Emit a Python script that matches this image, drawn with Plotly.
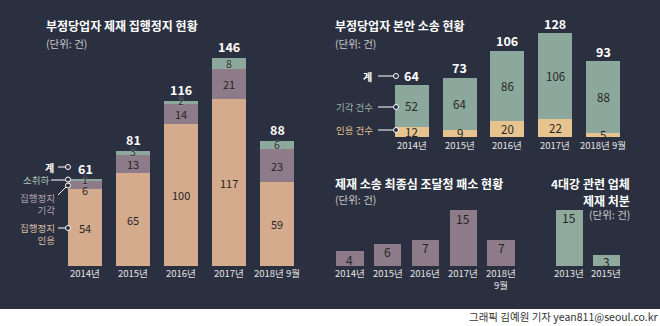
import plotly.graph_objects as go

W, H = 660, 326

# ---- data -------------------------------------------------------------
years_stay = ["2014년", "2015년", "2016년", "2017년", "2018년 9월"]
stay_granted = [54, 65, 100, 117, 59]     # 집행정지 인용
stay_rejected = [6, 13, 14, 21, 23]       # 집행정지 기각
stay_withdrawn = [1, 3, 2, 8, 6]          # 소취하
stay_total = [61, 81, 116, 146, 88]       # 계

years_suit = ["2014년", "2015년", "2016년", "2017년", "2018년 9월"]
suit_won = [12, 9, 20, 22, 5]             # 인용 건수
suit_lost = [52, 64, 86, 106, 88]         # 기각 건수
suit_total = [64, 73, 106, 128, 93]       # 계

years_final = ["2014년", "2015년", "2016년", "2017년", "2018년<br>9월"]
final_losses = [4, 6, 7, 15, 7]

years_river = ["2013년", "2015년"]
river_sanctions = [15, 3]

# ---- style ------------------------------------------------------------
BG = "#2b3040"
PEACH = "#d4ac8d"
MAUVE = "#8d7b8a"
SAGE = "#8ca79b"
SAND = "#e6c38f"
KR = "Noto Sans CJK KR"
NUM = "Liberation Sans Narrow, Noto Sans CJK KR"


def fx(x):
    return x / W


def fy(y):
    return 1 - y / H


fig = go.Figure()

# stacked bars: stays of sanction execution
for vals, col, name in [(stay_granted, PEACH, "집행정지 인용"),
                        (stay_rejected, MAUVE, "집행정지 기각"),
                        (stay_withdrawn, SAGE, "소취하")]:
    fig.add_trace(go.Bar(x=years_stay, y=vals, marker_color=col, width=0.71,
                         marker_line_width=0,
                         name=name, xaxis="x", yaxis="y", hoverinfo="skip"))

# stacked bars: main lawsuits
for vals, col, name in [(suit_won, SAND, "인용 건수"), (suit_lost, SAGE, "기각 건수")]:
    fig.add_trace(go.Bar(x=years_suit, y=vals, marker_color=col, width=0.71,
                         marker_line_width=0,
                         name=name, xaxis="x2", yaxis="y2", hoverinfo="skip"))

fig.add_trace(go.Bar(x=years_final, y=final_losses, marker_color=MAUVE, width=0.72,
                     marker_line_width=0, xaxis="x3", yaxis="y3", hoverinfo="skip"))
fig.add_trace(go.Bar(x=years_river, y=river_sanctions, marker_color="#8fa99d", width=0.73,
                     marker_line_width=0, xaxis="x4", yaxis="y4", hoverinfo="skip"))

ann = []


def seg_labels(cats, series, xa, ya, size=11):
    base = [0] * len(cats)
    for vals, shadow, nudge, fsize in series:
        for i, (c, v) in enumerate(zip(cats, vals)):
            f = dict(family=NUM, size=fsize or size, color="#262626")
            if shadow:
                f["shadow"] = shadow
            ann.append(dict(x=c, y=base[i] + v / 2, xref=xa, yref=ya, text=str(v),
                            showarrow=False, font=f, yanchor="middle", borderpad=0,
                            yshift=nudge.get(c, 0)))
            base[i] += v


seg_labels(years_stay, [(stay_granted, None, {}, None),
                        (stay_rejected, None, {"2014년": -5}, None),
                        (stay_withdrawn, "0 0 2px #b9d2c4", {"2015년": 1.5, "2016년": 1.5}, 10.5)],
           "x", "y")
seg_labels(years_suit, [(suit_won, None, {}, None), (suit_lost, None, {}, None)],
           "x2", "y2", size=11.5)

# totals above stacks
for cats, tots, xa, ya, shift in [(years_stay, stay_total, "x", "y", 11),
                                  (years_suit, suit_total, "x2", "y2", 10)]:
    for c, t in zip(cats, tots):
        ann.append(dict(x=c, y=t, xref=xa, yref=ya, text=f"<b>{t}</b>", showarrow=False,
                        yanchor="middle", yshift=shift, borderpad=0,
                        font=dict(family=KR, size=12.5, color="white")))

# values inside single bars
for cats, vals, xa, ya, shift in [(years_final, final_losses, "x3", "y3", -8),
                                  (years_river, river_sanctions, "x4", "y4", -7)]:
    for c, v in zip(cats, vals):
        ann.append(dict(x=c, y=v, xref=xa, yref=ya, text=str(v), showarrow=False,
                        yanchor="middle", yshift=shift, borderpad=0,
                        font=dict(family=NUM, size=12, color="#262626")))

# category labels under each axis
for cats, xa, ya, shift in [(years_stay, "x", "y", 1), (years_suit, "x2", "y2", -0.3),
                            (years_final, "x3", "y3", 1), (years_river, "x4", "y4", 1)]:
    for c in cats:
        ann.append(dict(x=c, y=0, xref=xa, yref=ya, text=c, showarrow=False,
                        yanchor="top", yshift=shift, borderpad=0,
                        font=dict(family=NUM, size=9.5, color="#e4e4e4")))


def txt(x, y, s, size=10, color="#c9c9c9", anchor="left", bold=False, ya="middle"):
    ann.append(dict(x=fx(x), y=fy(y), xref="paper", yref="paper", text=s, showarrow=False,
                    xanchor=anchor, yanchor=ya, align=anchor, borderpad=0,
                    font=dict(family=KR, size=size, color=color,
                              weight="bold" if bold else "normal")))


# titles
txt(45, 26, "부정당업자 제재 집행정지 현황", 12, "white", bold=True)
txt(45, 43, "(단위: 건)", 10.5)
txt(334, 25, "부정당업자 본안 소송 현황", 12, "white", bold=True)
txt(334, 43, "(단위: 건)", 10.5)
txt(334, 183, "제재 소송 최종심 조달청 패소 현황", 12, "white", bold=True)
txt(334, 199, "(단위: 건)", 10.5)
txt(631, 183, "4대강 관련 업체", 12, "white", anchor="right", bold=True)
txt(631, 200, "제재 처분", 12, "white", anchor="right", bold=True)
txt(631, 214, "(단위: 건)", 10.5, anchor="right")

# leader labels, left chart
txt(55, 167, "계", 10, "white", anchor="right", bold=True)
txt(50, 180, "소취하", 9.5, "#a9c4b6", anchor="right")
txt(56, 204, "집행정지<br>기각", 9.5, "#b3a3b2", anchor="right")
txt(56, 234, "집행정지<br>인용", 9.5, "#dcbfa4", anchor="right")

# leader labels, right chart
txt(373, 76, "계", 10, "white", anchor="right", bold=True)
txt(374, 107, "기각 건수", 9.5, "#9bb3a7", anchor="right")
txt(374, 130, "인용 건수", 9.5, SAND, anchor="right")

# credit line
txt(659, 316, "그래픽 김예원 기자 yean811@seoul.co.kr", 10.5, "#333333", anchor="right")

shapes = [dict(type="rect", xref="paper", yref="paper", x0=0, x1=1, y0=fy(309), y1=1,
               fillcolor=BG, line_width=0, layer="below")]


def seg(x0, y0, x1, y1):
    shapes.append(dict(type="line", xref="paper", yref="paper", x0=fx(x0), y0=fy(y0),
                       x1=fx(x1), y1=fy(y1), line=dict(color="white", width=1)))


def dot(x, y, r=2.5):
    shapes.append(dict(type="circle", xref="paper", yref="paper", x0=fx(x - r), x1=fx(x + r),
                       y0=fy(y + r), y1=fy(y - r), fillcolor=BG,
                       line=dict(color="white", width=1)))


seg(58, 167, 65.5, 167); dot(68, 167)
seg(51, 180, 65.5, 180); dot(68, 179.5)
seg(58, 195, 66, 187); dot(68, 185.5)
seg(58, 228, 65.5, 228); dot(68, 228)
seg(378, 76, 393.5, 76); dot(396, 76)
seg(378, 107, 393.5, 107); dot(396, 107)
seg(378, 130, 393.5, 130); dot(396, 130)


def xax(a, b):
    return dict(domain=[fx(a), fx(b)], type="category", showgrid=False, zeroline=False,
                showline=False, showticklabels=False, ticks="", fixedrange=True)


def yax(bottom, top, scale):
    return dict(domain=[fy(bottom), fy(top)], range=[0, (bottom - top) / scale],
                showgrid=False, zeroline=False, showline=False, showticklabels=False,
                ticks="", fixedrange=True)


fig.update_layout(
    width=W, height=H, margin=dict(l=0, r=0, t=0, b=0),
    paper_bgcolor="white", plot_bgcolor="rgba(0,0,0,0)",
    barmode="stack", bargap=0, showlegend=False,
    xaxis=dict(xax(61, 301), anchor="y"),
    yaxis=dict(yax(266, 50, 1.425), anchor="x"),
    xaxis2=dict(xax(388, 627), anchor="y2"),
    yaxis2=dict(yax(137, 25, 0.8125), anchor="x2"),
    xaxis3=dict(xax(331, 520), anchor="y3"),
    yaxis3=dict(yax(266, 200, 3.73), anchor="x3"),
    xaxis4=dict(xax(550.5, 624.5), anchor="y4"),
    yaxis4=dict(yax(266, 200, 3.73), anchor="x4"),
    annotations=ann, shapes=shapes,
)

fig.write_html("out.html")
